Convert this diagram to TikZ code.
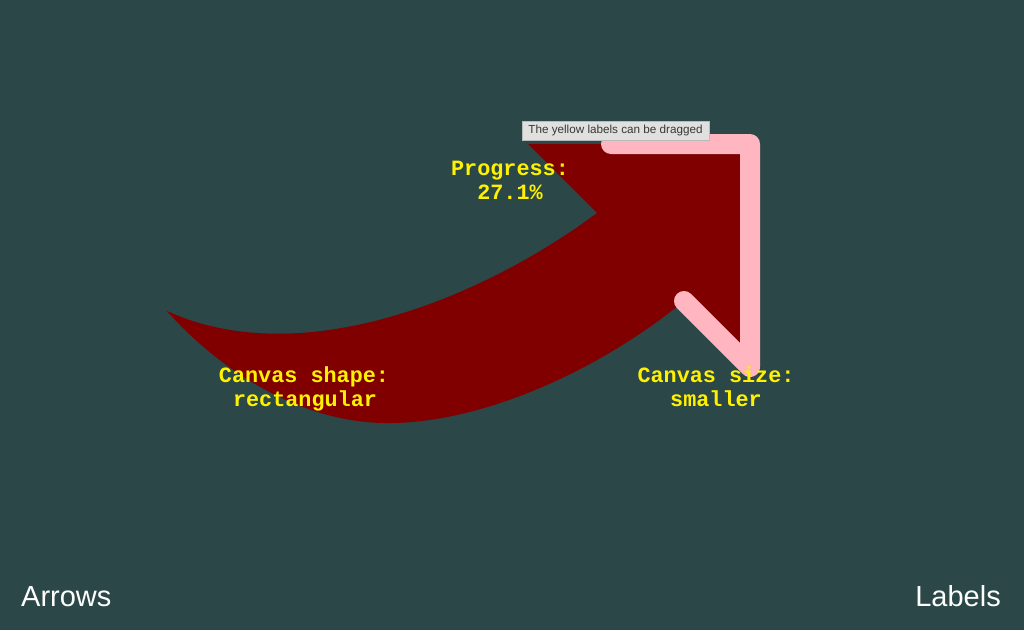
\documentclass[tikz,border=0pt]{standalone}
\usepackage{fontspec}
\setmainfont{Liberation Sans}
\newfontfamily\labelmono{Liberation Mono}
\definecolor{bg}{RGB}{43,71,71}
\definecolor{arrowred}{RGB}{128,0,0}
\definecolor{pinkline}{RGB}{255,182,193}
\definecolor{tipbg}{RGB}{224,224,222}
\definecolor{tiptext}{RGB}{55,55,55}
\tikzset{
  ylabel/.style={text=yellow, font=\labelmono\bfseries\fontsize{21.8}{24}\selectfont, anchor=base, inner sep=0pt},
  panellabel/.style={text=white, font=\fontsize{29}{34}\selectfont, inner sep=0pt},
  pinkstroke/.style={draw=pinkline, line width=20pt, line cap=round, line join=round}
}
\begin{document}
\begin{tikzpicture}[x=1pt,y=-1pt]
\useasboundingbox (0,0) rectangle (1024,630);
\fill[bg] (0,0) rectangle (1024,630);
% curved arrow body and head
\fill[arrowred] (528,144) -- (750,144) -- (750,367) -- (684,301)
  .. controls (600,370) and (480,425) .. (383,423)
  .. controls (290,421) and (210,360) .. (167,311)
  .. controls (300,372) and (480,300) .. (597,213) -- cycle;
% pink chevron
\draw[pinkstroke] (611,144) -- (750,144) -- (750,367) -- (684,301);
% tooltip
\node[draw=gray!55, fill=tipbg, text=tiptext, font=\fontsize{11.7}{13}\selectfont,
      inner sep=0pt, minimum width=187pt, minimum height=19pt] (tip) at (615.5,130.5)
      {The yellow labels can be dragged};
% yellow labels
\node[ylabel] (prog) at (510,175) {Progress:};
\node[ylabel] (progval) at (510,199) {27.1\%};
\node[ylabel] (shape) at (304,382) {Canvas shape:};
\node[ylabel] (shapeval) at (305,406) {rectangular};
\node[ylabel] (size) at (716,382) {Canvas size:};
\node[ylabel] (sizeval) at (716,406) {smaller};
% panel labels
\node[panellabel, anchor=base west] (arrows) at (21,606) {Arrows};
\node[panellabel, anchor=base east] (labels) at (1001,606) {Labels};
\end{tikzpicture}
\end{document}
